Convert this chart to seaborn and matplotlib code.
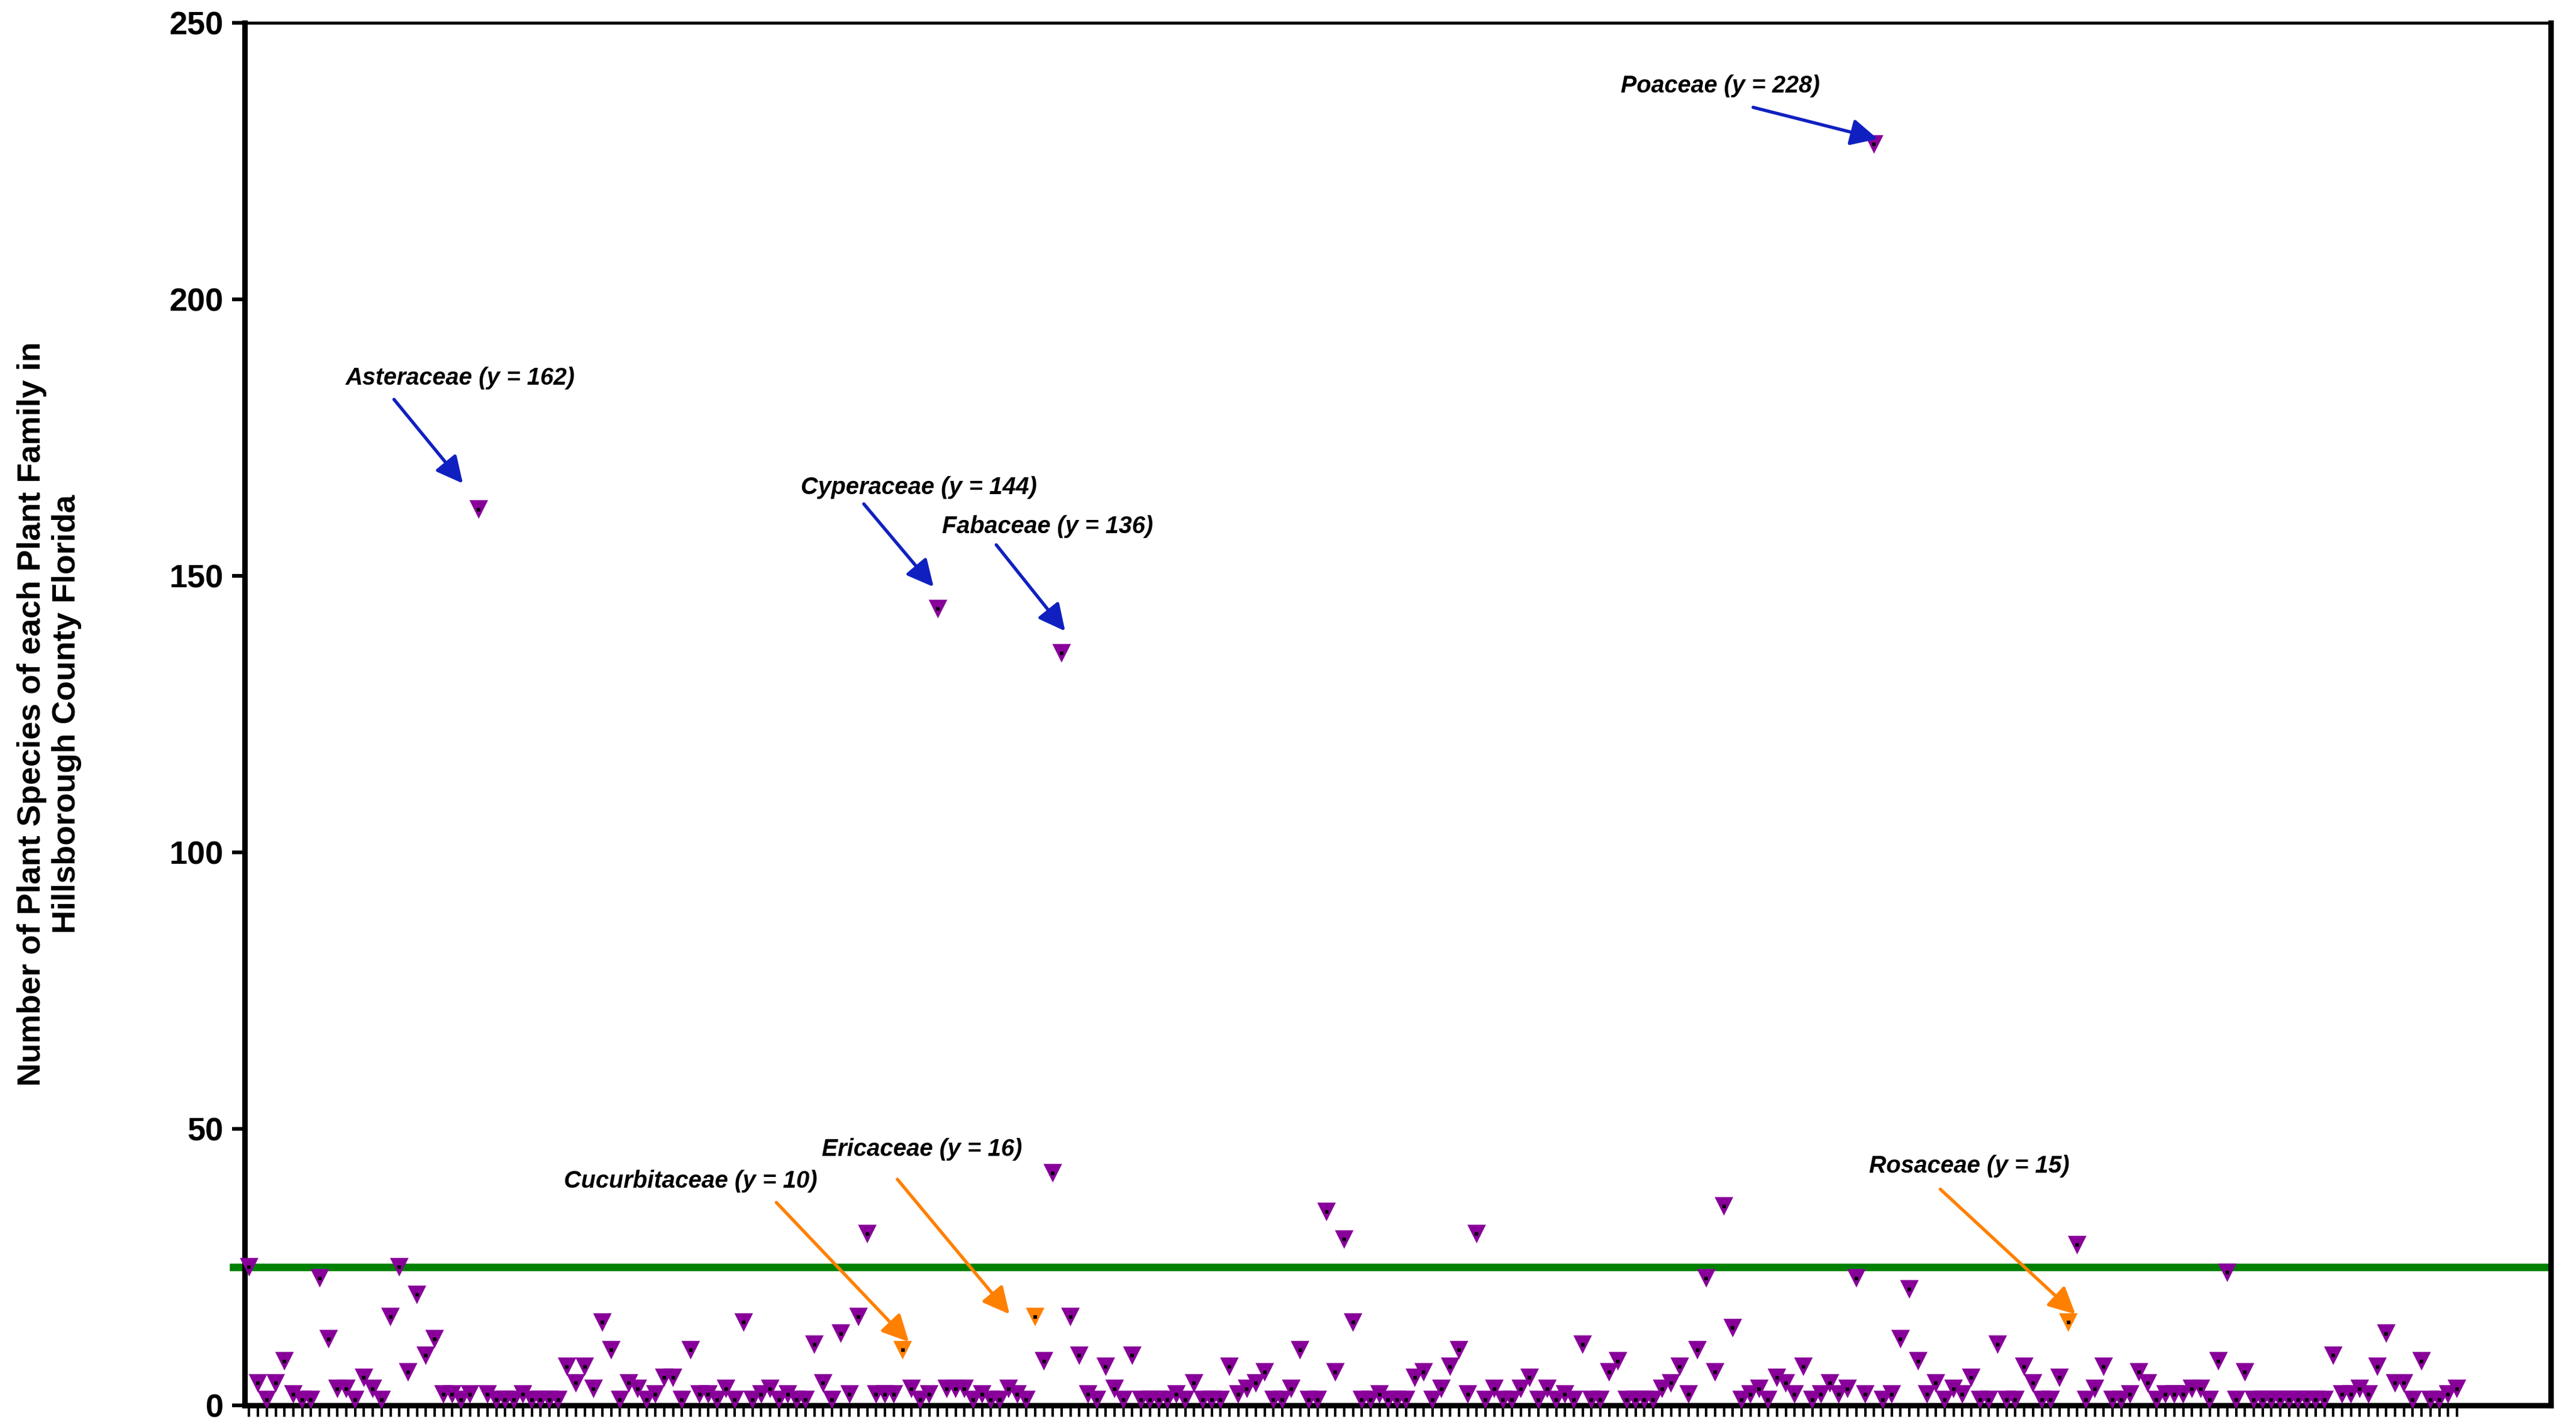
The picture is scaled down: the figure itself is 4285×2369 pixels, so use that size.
import numpy as np
import pandas as pd
import matplotlib
matplotlib.use("Agg")
import matplotlib.pyplot as plt
import seaborn as sns

# number of species per family, in the order of the x axis
species_counts = [
    25, 4, 1, 4, 8, 2, 1, 1, 23, 12, 3, 3, 1, 5, 3, 1, 16, 25, 6, 20, 9, 12, 2, 2, 1, 2,
    162, 2, 1, 1, 1, 2, 1, 1, 1, 1, 7, 4, 7, 3, 15, 10, 1, 4,
    3, 1, 2, 5, 5, 1, 10, 2, 2, 1, 3, 1, 15, 1, 2, 3, 1, 2, 1, 1,
    11, 4, 1, 13, 2, 16, 31, 2, 2, 2, 10, 3, 1, 2, 144, 3, 3, 3, 1, 2,
    1, 1, 3, 2, 1, 16, 8,
    42, 136, 16, 9, 2, 1, 7, 3, 1, 9, 1, 1, 1, 1, 2, 1, 4, 1, 1, 1,
    7, 2, 3, 4, 6, 1, 1, 3, 10, 1, 1, 35, 6, 30, 15, 1, 1, 2, 1, 1,
    1, 5, 6, 1, 3, 7, 10,
    2, 31, 1, 3, 1, 1, 3, 5, 1, 3, 1, 2, 1, 11, 1, 1, 6, 8, 1, 1,
    1, 1, 3, 4, 7, 2, 10, 23, 6, 36, 14, 1, 2, 3, 1, 5, 4, 2, 7, 1,
    2, 4, 2, 3, 23,
    2, 228, 1, 2, 12, 21, 8, 2, 4, 1, 3, 2, 5, 1, 1, 11, 1, 1, 7, 4,
    1, 1, 5, 15, 29, 1, 3, 7, 1, 1, 2, 6, 4, 1, 2, 2, 2, 3, 3, 1,
    8, 24, 1, 6, 1, 1,
    1, 1, 1, 1, 1, 1, 1, 9, 2, 2, 3, 2, 7, 13, 4, 4, 1, 8, 1, 1, 2, 3,
]
highlight_idx = [74, 89, 206]   # Cucurbitaceae, Ericaceae, Rosaceae
mean_line = 25

# label text, text position, arrow tail, arrow head, colour group
labels = ["Poaceae (y = 228)", "Asteraceae (y = 162)", "Cyperaceae (y = 144)",
          "Fabaceae (y = 136)", "Ericaceae (y = 16)", "Cucurbitaceae (y = 10)",
          "Rosaceae (y = 15)"]
label_xy = [(166.6, 238.6), (23.9, 185.8), (75.8, 166.0), (90.4, 158.9),
            (76.2, 46.3), (50.0, 40.6), (194.8, 43.3)]
arrow_tail = [(170.3, 234.7), (16.4, 181.9), (69.6, 163.0), (84.6, 155.6),
              (73.4, 40.9), (59.7, 36.7), (191.5, 39.1)]
arrow_head = [(184.4, 229.0), (24.2, 166.7), (77.5, 148.0), (92.4, 140.0),
              (86.1, 16.5), (74.7, 11.5), (206.8, 16.5)]
arrow_kind = ["top", "top", "top", "top", "low", "low", "low"]

df = pd.DataFrame({"idx": np.arange(len(species_counts)), "n": species_counts})
df["grp"] = np.where(df["idx"].isin(highlight_idx), "hl", "normal")

purple = "#880099"
orange = "#ff8000"
blue = "#1020c0"

fig = plt.figure(figsize=(14.285, 7.897), dpi=300)
ax = fig.add_axes([0.095, 0.013, 0.895, 0.971])

ax.axhline(mean_line, color="#008000", lw=3, zorder=1, xmin=-0.005, xmax=0.998,
           clip_on=False)
sns.scatterplot(data=df, x="idx", y="n", hue="grp", marker="v", s=55,
                palette={"normal": purple, "hl": orange}, linewidth=0,
                legend=False, ax=ax, zorder=3, clip_on=False)
ax.scatter(df["idx"], df["n"], marker="s", s=1.5, color="black", zorder=4,
           linewidths=0, clip_on=False)

for t, txy, a0, a1, k in zip(labels, label_xy, arrow_tail, arrow_head, arrow_kind):
    ax.text(txy[0], txy[1], t, ha="center", va="center", fontsize=9.5,
            fontweight="bold", style="italic", family="Liberation Sans")
    c = blue if k == "top" else orange
    ax.annotate("", xy=a1, xytext=a0,
                arrowprops=dict(arrowstyle="-|>,head_length=0.9,head_width=0.45",
                                color=c, lw=1.3, shrinkA=0, shrinkB=0))

ax.set_xlim(-0.5, 260.6)
ax.set_ylim(0, 250)
ax.set_xticks(df["idx"])
ax.set_xticklabels([])
ax.set_yticks([0, 50, 100, 150, 200, 250])
ax.tick_params(axis="x", length=4.5, width=1.0, direction="out")
ax.tick_params(axis="y", length=5, width=1.5, labelsize=13)
for lab in ax.get_yticklabels():
    lab.set_fontweight("bold")
    lab.set_family("Liberation Sans")
ax.set_xlabel("")
ax.set_ylabel("Number of Plant Species of each Plant Family in\nHillsborough County Florida",
              fontsize=13, fontweight="bold", family="Liberation Sans", labelpad=35)
for s in ["left", "bottom", "right"]:
    ax.spines[s].set_linewidth(2.2)
ax.spines["top"].set_linewidth(1.2)

fig.savefig("out.png", dpi=300)
